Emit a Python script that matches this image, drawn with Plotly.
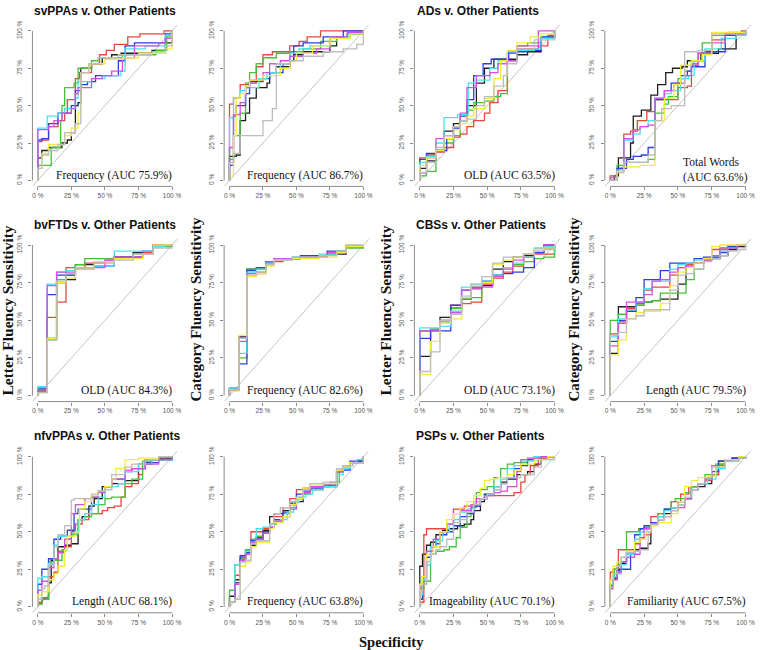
import plotly.graph_objects as go

W, H = 760, 650

# ---------------- data: ROC step curves, (x_end of each level, level) in % ----------------
SVPPA_LF = {
    "black":   ([3,8,18,22,25,28,30,32,40,48,55,62,85,95,100], [15,20,22,25,27,32,50,52,75,78,82,84,85,87,92]),
    "red":     ([3,8,15,20,22,28,31,40,46,51,57,67,76,94,100], [26,27,36,40,45,54,68,72,78,84,87,91,96,98,100]),
    "green":   ([10,17,18,20,27,30,40,45,63,88,96,100], [10,22,40,50,62,65,75,80,82,84,87,96]),
    "blue":    ([3,8,15,25,28,32,37,43,60,65,72,95,100], [27,28,38,45,50,60,64,66,70,80,90,92,98]),
    "cyan":    ([7,15,20,28,30,40,50,62,65,80,95,100], [35,43,45,48,55,66,68,70,73,88,90,97]),
    "magenta": ([8,12,18,25,28,30,40,48,55,63,72,90,95,100], [34,36,40,45,48,58,62,68,70,73,82,90,92,95]),
    "yellow":  ([3,8,20,25,30,32,38,50,63,75,95,100], [8,18,24,30,35,45,72,78,81,82,85,88]),
    "gray":    ([3,8,15,20,28,32,38,45,60,85,95,100], [8,17,20,24,32,38,72,78,82,84,86,90]),
}
SVPPA_CF = {
    "black":   ([5,8,12,15,20,28,30,35,45,48,55,75,80,88,100], [16,17,40,45,55,62,65,72,76,80,84,86,90,95,98]),
    "red":     ([3,8,15,20,25,32,45,52,58,68,100], [51,55,64,65,76,84,86,90,93,96,100]),
    "green":   ([3,8,12,15,20,25,35,45,55,68,80,90,100], [14,30,45,65,72,78,82,85,86,88,93,96,98]),
    "blue":    ([3,5,12,15,25,30,40,45,48,55,70,85,100], [10,43,50,58,66,68,72,78,85,90,92,96,100]),
    "cyan":    ([3,8,12,22,28,38,45,52,60,75,88,100], [42,55,60,62,68,72,78,85,88,90,95,98]),
    "magenta": ([3,8,12,15,25,30,38,45,55,65,75,88,100], [22,44,52,62,67,72,78,80,83,85,88,96,99]),
    "yellow":  ([3,5,8,12,15,25,38,45,50,62,75,90,100], [3,30,55,58,63,67,70,75,80,85,90,95,98]),
    "gray":    ([3,8,25,32,35,45,55,70,85,95,100], [12,18,30,40,48,78,80,83,86,88,91]),
}
AD_LF = {
    "black":   ([5,12,18,25,30,35,42,48,55,72,80,90,100], [8,13,20,33,38,40,50,65,75,81,84,86,95]),
    "red":     ([5,12,18,25,30,35,40,48,52,58,65,72,88,95,100], [15,17,19,22,29,31,36,40,45,52,60,85,88,90,97]),
    "green":   ([5,12,18,25,30,35,40,48,55,60,65,72,80,90,100], [3,6,20,25,30,40,47,52,53,56,58,80,90,92,96]),
    "blue":    ([5,12,20,25,30,35,40,47,53,66,80,90,100], [14,18,20,28,35,43,54,70,78,81,86,87,96]),
    "cyan":    ([5,12,18,28,36,42,52,58,65,72,85,90,100], [12,16,25,42,44,65,67,75,80,86,87,88,95]),
    "magenta": ([5,12,18,25,30,35,42,52,58,65,72,88,100], [5,15,28,30,36,45,62,70,72,78,80,90,100]),
    "yellow":  ([5,12,18,25,30,35,40,48,55,60,65,72,82,90,100], [10,15,20,28,34,38,43,48,55,68,80,87,92,96,98]),
    "gray":    ([5,12,18,25,30,35,42,48,55,62,65,72,85,100], [5,12,22,30,36,40,41,50,56,63,70,78,88,94]),
}
AD_CF = {
    "black":   ([3,6,15,17,23,30,35,41,46,53,57,67,80,93,100], [0,3,15,25,43,47,57,64,72,75,76,80,85,88,98]),
    "red":     ([5,10,15,20,27,33,50,57,60,65,75,85,97], [3,8,31,33,40,46,54,62,63,77,85,94,98]),
    "green":   ([5,10,28,33,40,43,50,55,60,68,75,88,100], [0,10,12,14,45,51,56,68,73,80,92,97,99]),
    "blue":    ([5,12,17,23,28,33,40,45,52,57,60,70,85,100], [0,8,14,16,17,22,54,60,65,70,73,76,86,97]),
    "cyan":    ([5,10,17,22,28,33,40,45,52,58,62,70,82,93,100], [2,7,27,31,36,40,55,58,60,68,70,80,88,95,97]),
    "magenta": ([5,10,17,22,28,33,40,47,55,60,65,75,85,100], [2,6,28,34,36,37,55,60,65,70,78,85,92,98]),
    "yellow":  ([5,10,22,33,40,47,52,60,68,75,100], [0,6,9,10,40,55,64,77,80,84,99]),
    "gray":    ([5,10,28,33,38,45,55,65,75,100], [0,5,12,17,40,48,50,86,87,98]),
}
BVFTD_LF = {
    "black":   ([7,14,21,28,42,57,71,86], [3,38,75,77,87,89,92,95]),
    "red":     ([7,14,21,35,50,57,78,86], [4,52,62,85,88,90,92,95]),
    "green":   ([7,14,21,28,35,64,71,86,100], [3,37,77,80,87,91,92,94,99]),
    "blue":    ([7,14,28,42,57,78,86], [5,67,80,84,86,92,96]),
    "cyan":    ([7,14,21,28,42,57,86,95], [6,74,82,83,84,86,96,99]),
    "magenta": ([7,14,28,42,50,57,78,86], [3,73,82,84,85,90,92,94]),
    "yellow":  ([7,14,21,28,42,57,78,86], [2,38,75,78,84,89,91,94]),
    "gray":    ([7,14,21,28,42,57,71,86,100], [2,37,76,81,85,88,90,94,98]),
}
BVFTD_CF = {
    "black":   ([7,13,27,33,53,73,87,100], [4,39,84,89,91,92,94,99]),
    "red":     ([7,13,27,40,53,73,87,100], [4,38,81,89,91,92,95,99]),
    "green":   ([7,13,27,33,47,67,73,80,87,100], [4,25,84,87,91,92,93,94,96,98]),
    "blue":    ([7,13,20,27,33,53,73,87,100], [5,21,83,85,88,91,93,96,99]),
    "cyan":    ([7,13,20,27,33,47,67,80,87,100], [5,28,82,84,88,90,92,94,96,99]),
    "magenta": ([7,13,20,27,33,53,73,87,100], [4,36,81,82,87,91,92,95,99]),
    "yellow":  ([7,13,20,27,33,47,67,80,87,100], [3,40,79,81,86,90,91,92,95,99]),
    "gray":    ([7,13,20,27,33,47,67,80,87], [4,38,80,82,87,90,92,93,96]),
}
CBS_LF = {
    "black":   ([8,15,23,31,38,46,54,62,69,77,85,92], [26,44,52,58,64,71,73,84,89,92,93,95]),
    "red":     ([8,15,23,31,38,46,54,62,69,77,85,92,100], [43,44,50,60,61,62,74,78,82,86,92,94,94]),
    "green":   ([8,15,23,31,38,46,54,62,69,77,85,92,100], [43,44,49,58,64,65,75,80,85,87,89,91,92]),
    "blue":    ([8,23,31,38,46,54,62,69,77,85,92,100], [38,43,60,70,72,76,80,81,82,85,95,98]),
    "cyan":    ([15,23,31,38,46,54,62,69,77,85,92,100], [45,46,56,72,74,76,80,85,88,92,98,99]),
    "magenta": ([8,15,23,31,38,46,54,62,69,77,85,92,100], [43,43,50,55,70,71,72,79,84,90,94,97,100]),
    "yellow":  ([8,15,23,31,38,46,54,62,69,77,85,92,100], [14,36,48,51,65,73,75,87,90,92,94,97,98]),
    "gray":    ([8,15,23,31,38,46,54,62,69,77,85,92,100], [16,29,50,54,66,74,79,88,92,92,94,96,97]),
}
CBS_CF = {
    "black":   ([6,19,25,31,37,44,50,56,62,69,75,81,87,94,100], [28,59,61,62,63,64,64,74,87,88,91,91,93,97,99]),
    "red":     ([6,12,19,25,31,37,44,50,56,62,69,75,81,87,94], [41,49,58,61,70,72,72,80,85,87,88,91,97,98,99]),
    "green":   ([6,12,19,25,31,37,44,56,62,69,75,81,87,94], [50,54,57,60,62,63,68,68,77,84,90,92,97,98]),
    "blue":    ([6,12,19,25,31,37,44,56,62,69,81,87,94], [36,50,56,65,77,77,83,88,88,91,92,95,99]),
    "cyan":    ([6,12,19,25,31,37,44,50,56,62,69,75,81,87,94], [39,51,57,62,71,76,76,84,87,88,90,91,93,96,98]),
    "magenta": ([6,12,19,25,31,37,44,50,56,62,69,75,81,87,94], [33,48,62,62,67,76,77,82,85,86,88,90,93,97,98]),
    "yellow":  ([6,12,19,25,37,44,50,56,62,69,75,81,100], [27,37,51,55,56,61,73,82,85,88,91,99,100]),
    "gray":    ([6,12,19,25,31,44,50,56,62,69,75,81,87,94,100], [40,42,51,53,57,57,70,80,81,84,89,91,93,96,97]),
}
NFVPPA_LF = {
    "black":   ([3,8,10,15,20,25,30,33,38,42,48,55,65,75,80,90,100], [2,5,16,31,40,41,42,58,60,67,72,80,82,84,95,98,99]),
    "red":     ([3,8,12,15,20,25,28,33,38,43,48,52,57,62,65,70,75,78,85,95], [3,6,20,23,37,40,50,55,58,62,62,64,66,67,73,80,82,88,95,98]),
    "green":   ([3,8,12,18,22,25,30,35,40,45,50,55,65,70,78,85,100], [2,5,30,31,38,45,48,58,60,62,68,72,73,82,85,97,98]),
    "blue":    ([3,8,12,17,22,27,30,40,45,50,55,65,70,80,90,100], [15,25,32,45,47,51,62,65,73,77,80,85,90,92,96,98]),
    "cyan":    ([3,8,12,15,20,25,30,35,40,45,50,55,60,65,75,85,100], [19,20,29,41,47,47,49,58,62,68,73,78,80,82,90,95,98]),
    "magenta": ([3,8,12,15,20,25,28,35,40,45,50,55,65,70,80,90,100], [11,17,26,32,36,45,62,68,72,73,76,80,85,91,92,95,98]),
    "yellow":  ([3,8,12,15,20,22,28,31,35,40,45,50,55,58,65,75,90], [8,10,18,22,27,38,47,50,65,70,74,77,80,85,92,98,99]),
    "gray":    ([3,5,8,12,15,20,25,27,40,45,50,55,65,70,80,90], [5,12,14,28,40,48,54,71,72,75,77,78,88,93,95,98]),
}
NFVPPA_CF = {
    "black":   ([4,8,12,16,20,25,30,33,40,45,50,55,60,70,80,85,90,95,100], [7,18,31,37,41,45,51,60,62,64,69,70,75,78,80,90,92,96,97]),
    "red":     ([4,8,12,16,20,25,30,33,40,45,50,55,60,70,80,85,90,100], [3,21,33,38,50,50,52,55,60,66,72,78,79,80,82,90,94,96]),
    "green":   ([4,8,12,16,20,25,30,35,40,45,50,55,60,65,75,82,85,92,100], [11,28,32,38,45,47,50,55,57,62,66,72,75,78,80,83,91,94,96]),
    "blue":    ([4,8,12,16,20,25,30,33,40,45,50,55,60,70,80,85,90,100], [3,16,34,36,44,46,50,53,58,63,68,75,77,79,81,90,91,97]),
    "cyan":    ([4,8,12,16,20,25,30,33,38,43,48,52,57,62,70,80,85,90,95,100], [3,28,30,37,43,52,53,55,56,58,63,70,73,75,78,80,88,92,96,98]),
    "magenta": ([4,8,12,16,20,25,30,33,40,45,50,55,60,70,80,85,90,100], [3,15,31,35,43,45,49,53,57,60,65,72,76,80,82,90,93,96]),
    "yellow":  ([4,8,12,16,20,25,30,33,40,45,50,55,60,70,80,85,90,100], [3,5,27,30,40,43,43,52,56,60,68,72,79,81,82,91,93,96]),
    "gray":    ([4,8,12,16,20,25,30,33,38,45,50,55,60,70,80,85,92,100], [3,5,30,31,42,44,44,55,62,66,70,73,78,82,83,92,94,96]),
}
PSP_LF = {
    "black":   ([2,5,8,12,17,22,28,33,38,40,45,48,55,60,65,72,80,85,90], [27,35,41,43,48,51,52,54,55,58,64,70,75,80,83,85,88,90,95]),
    "red":     ([3,5,20,25,33,45,50,58,70,75,78,82,88,95], [3,48,52,55,65,67,72,74,74,76,83,88,94,99]),
    "green":   ([3,8,12,18,22,27,30,35,38,42,45,50,55,60,65,70,80,90], [12,17,35,37,38,40,46,53,60,66,76,78,80,86,92,95,96,98]),
    "blue":    ([2,5,8,12,15,20,25,30,35,40,45,50,55,60,65,70,75,80,85], [5,20,33,40,42,48,50,54,60,62,67,72,75,78,82,86,92,94,98]),
    "cyan":    ([2,5,8,12,17,22,25,30,35,40,45,50,55,60,65,70,75,85], [8,18,28,40,44,50,55,58,63,65,70,72,75,80,85,92,94,97]),
    "magenta": ([2,5,10,15,20,25,30,38,42,48,55,60,65,72,75,80,90], [13,15,37,45,50,55,62,64,68,72,74,76,77,80,90,98,99]),
    "yellow":  ([2,5,10,15,20,25,30,35,40,45,48,52,58,65,70,75,85,95], [15,20,35,40,50,58,62,66,70,74,79,84,85,86,88,91,95,98]),
    "gray":    ([2,5,8,12,15,20,25,30,35,40,45,50,55,60,65,75,85,90,100], [10,15,30,35,38,40,45,56,58,63,68,72,75,78,82,86,88,93,98]),
}
PSP_CF = {
    "black":   ([2,5,8,12,18,22,28,30,35,40,45,50,55,60,65,70,75,80,90,100], [14,19,25,29,36,38,39,42,55,58,62,66,70,72,80,80,82,88,97,99]),
    "red":     ([2,6,15,18,22,26,30,35,40,45,52,58,65,70,75,80,85,95], [23,25,38,38,42,46,48,60,62,65,70,75,80,82,84,88,95,98]),
    "green":   ([3,5,8,12,21,25,30,35,40,45,48,55,60,65,70,78,85,95], [18,25,28,30,50,52,53,55,62,65,70,72,76,80,82,88,95,98]),
    "blue":    ([2,5,8,15,18,22,25,30,35,40,45,50,55,60,65,70,75,80,90,100], [14,20,24,25,35,48,52,54,56,60,65,66,68,72,78,82,85,90,97,99]),
    "cyan":    ([2,5,8,12,18,22,27,30,35,40,45,50,55,60,65,72,78,85,95,100], [15,20,22,28,35,45,50,52,55,60,64,66,68,72,78,82,85,92,97,99]),
    "magenta": ([2,5,8,12,18,22,25,30,35,40,45,50,55,60,65,70,75,85,95], [12,18,23,30,33,35,45,52,55,58,60,64,66,72,78,82,86,94,98]),
    "yellow":  ([2,5,8,12,18,22,26,30,35,40,45,50,55,60,65,72,78,85,95], [18,27,30,33,37,43,45,50,54,56,56,62,70,80,84,86,87,93,98]),
    "gray":    ([2,5,8,12,18,22,28,30,35,40,45,50,55,60,65,70,75,85,95,100], [13,22,27,33,36,37,38,50,55,58,60,64,68,73,78,82,86,93,97,99]),
}

PANEL_DATA = [SVPPA_LF, SVPPA_CF, AD_LF, AD_CF,
              BVFTD_LF, BVFTD_CF, CBS_LF, CBS_CF,
              NFVPPA_LF, NFVPPA_CF, PSP_LF, PSP_CF]
PANEL_NOTES = ["Frequency (AUC 75.9%)", "Frequency (AUC 86.7%)", "OLD (AUC 63.5%)", "Total Words<br>(AUC 63.6%)",
               "OLD (AUC 84.3%)", "Frequency (AUC 82.6%)", "OLD (AUC 73.1%)", "Length (AUC 79.5%)",
               "Length (AUC 68.1%)", "Frequency (AUC 63.8%)", "Imageability (AUC 70.1%)", "Familiarity (AUC 67.5%)"]
TITLES = ["svPPAs v. Other Patients", "ADs v. Other Patients",
          "bvFTDs v. Other Patients", "CBSs v. Other Patients",
          "nfvPPAs v. Other Patients", "PSPs v. Other Patients"]
YLABELS = ["Letter Fluency Sensitivity", "Category Fluency Sensitivity",
           "Letter Fluency Sensitivity", "Category Fluency Sensitivity"]
XLABEL = "Specificity"
TICK_VALS = [0, 25, 50, 75, 100]
TICK_TEXT = ["0 %", "25 %", "50 %", "75 %", "100 %"]

# ---------------- styling / layout ----------------
ORDER = ["black", "red", "green", "blue", "cyan", "magenta", "yellow", "gray"]
COLORS = {"black": "#1e1e1e", "red": "#e6473f", "green": "#46c23a", "blue": "#2b3fdc",
          "cyan": "#48e2ef", "magenta": "#d64fe4", "yellow": "#f2ec3a", "gray": "#bdbdbd"}
SANS = "Liberation Sans, Arial, sans-serif"
SERIF = "Liberation Serif, Times New Roman, serif"

COL_PX = [(38.0, 173.0), (230.7, 365.3), (422.0, 557.5), (613.5, 749.5)]   # pixel x of 0% and 100%
ROW_PX = [(177.5, 27.0), (394.0, 242.5), (606.5, 455.5)]                   # pixel y of 0% and 100%
EXP = 0.04
RNG = [-4, 104]

TITLE_POS = [(105.5, 7.5), (480.5, 7.5), (105.7, 222), (483.5, 222), (107.7, 435), (483, 435)]
YLAB_POS = [(7.5, 308), (197.5, 307), (387.5, 308), (577.5, 307)]
YLAB_SIZES = [15.5, 15, 15.5, 15]
XLAB_POS = (394, 642)

fig = go.Figure()
layout = dict(width=W, height=H, margin=dict(l=0, r=0, t=0, b=0), autosize=False,
              paper_bgcolor="white", plot_bgcolor="white", showlegend=False)
shapes, annotations = [], []

for i, (data, note) in enumerate(zip(PANEL_DATA, PANEL_NOTES)):
    r, c = divmod(i, 4)
    k = i + 1
    xa, ya = ("x" if k == 1 else f"x{k}"), ("y" if k == 1 else f"y{k}")
    x0p, x1p = COL_PX[c]
    y0p, y1p = ROW_PX[r]
    wx, hy = x1p - x0p, y0p - y1p
    xdom = [(x0p - EXP * wx) / W, (x1p + EXP * wx) / W]
    ydom = [1 - (y0p + EXP * hy) / H, 1 - (y1p - EXP * hy) / H]
    axcommon = dict(range=RNG, showgrid=False, zeroline=False, showline=False,
                    tickvals=TICK_VALS, ticktext=TICK_TEXT, ticks="outside", ticklen=3,
                    tickwidth=1, tickcolor="#8a8a8a",
                    tickfont=dict(family=SANS, size=6.5, color="#555555"), fixedrange=True)
    layout["xaxis" if k == 1 else f"xaxis{k}"] = dict(domain=xdom, anchor=ya, **axcommon)
    layout["yaxis" if k == 1 else f"yaxis{k}"] = dict(domain=ydom, anchor=xa, tickangle=-90,
                                                      ticklabelstandoff=4, **axcommon)
    # axis lines spanning the tick range (R style)
    shapes.append(dict(type="line", xref=xa, yref=f"{ya} domain", x0=TICK_VALS[0], x1=TICK_VALS[-1],
                       y0=0, y1=0, line=dict(color="#8a8a8a", width=1), layer="above"))
    shapes.append(dict(type="line", xref=f"{xa} domain", yref=ya, x0=0, x1=0,
                       y0=TICK_VALS[0], y1=TICK_VALS[-1], line=dict(color="#8a8a8a", width=1), layer="above"))
    # chance diagonal
    shapes.append(dict(type="line", xref=xa, yref=ya, x0=RNG[0], y0=RNG[0], x1=RNG[1], y1=RNG[1],
                       line=dict(color="#b4b4b4", width=0.8), layer="below"))
    for col in ORDER:
        xs, ys = data[col]
        fig.add_trace(go.Scatter(x=[0] + list(xs) + [100], y=[0] + list(ys) + [100],
                                 mode="lines", line=dict(color=COLORS[col], width=1.3, shape="vh"),
                                 xaxis=xa, yaxis=ya, hoverinfo="skip"))
    if "<br>" in note:
        annotations.append(dict(text=note, xref=xa, yref=ya, x=52, y=7, xanchor="left", yanchor="middle",
                                align="left", showarrow=False,
                                font=dict(family=SERIF, size=11.5, color="#111111")))
    else:
        annotations.append(dict(text=note, xref=xa, yref=ya, x=101.5, y=3.5, xanchor="right",
                                yanchor="middle", showarrow=False,
                                font=dict(family=SERIF, size=11.5, color="#111111")))

for t, (px, py) in zip(TITLES, TITLE_POS):
    annotations.append(dict(text=f"<b>{t}</b>", xref="paper", yref="paper", x=px / W, y=1 - py / H,
                            xanchor="center", yanchor="middle", showarrow=False,
                            font=dict(family=SANS, size=12, color="#111111")))
for t, (px, py), fs in zip(YLABELS, YLAB_POS, YLAB_SIZES):
    annotations.append(dict(text=f"<b>{t}</b>", xref="paper", yref="paper", x=px / W, y=1 - py / H,
                            xanchor="center", yanchor="middle", textangle=-90, showarrow=False,
                            font=dict(family=SERIF, size=fs, color="#111111")))
annotations.append(dict(text=f"<b>{XLABEL}</b>", xref="paper", yref="paper", x=XLAB_POS[0] / W,
                        y=1 - XLAB_POS[1] / H, xanchor="center", yanchor="middle", showarrow=False,
                        font=dict(family=SERIF, size=14.5, color="#111111")))

layout["shapes"] = shapes
layout["annotations"] = annotations
fig.update_layout(**layout)
fig.write_html("out.html", include_plotlyjs=True, full_html=True,
               config={"displayModeBar": False, "staticPlot": True},
               post_script="document.body.style.margin='0';document.body.style.overflow='hidden';")
